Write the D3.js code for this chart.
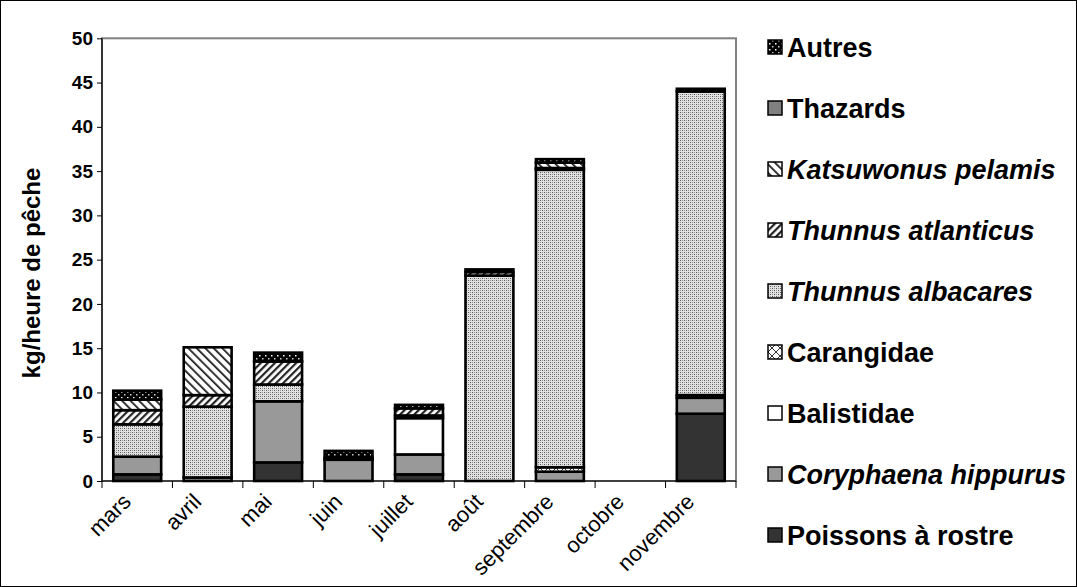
<!DOCTYPE html>
<html><head><meta charset="utf-8">
<script src="https://cdn.jsdelivr.net/npm/d3@7"></script>
<style>
html,body{margin:0;padding:0;background:#fff;}
svg{display:block;font-family:"Liberation Sans",Arial,sans-serif;}
</style></head><body>
<svg id="chart" width="1077" height="587"></svg>
<script>
const months = ["mars","avril","mai","juin","juillet","août","septembre","octobre","novembre"];
const rostre     = [0.75, 0,   2.1, 0,   0.75, 0,    0,    0, 7.6];
const coryphaena = [2.0,  0.4, 6.9, 2.4, 2.25, 0,    1.05, 0, 1.8];
const balistidae = [0,    0,   0,   0,   4.1,  0,    0,    0, 0];
const carangidae = [0,    0,   0,   0,   0.3,  0,    0.5,  0, 0.3];
const albacares  = [3.65, 8.0, 1.9, 0,   0,    23.2, 33.6, 0, 34.3];
const atlanticus = [1.6,  1.3, 2.6, 0.2, 0.8,  0.4,  0.2,  0, 0];
const katsuwonus = [1.2,  5.4, 0,   0,   0,    0,    0.6,  0, 0];
const thazards   = [0,    0,   0,   0,   0,    0,    0,    0, 0];
const autres     = [1.0,  0,   1.0, 0.8, 0.4,  0.3,  0.4,  0, 0.3];
const yTicks = [0,5,10,15,20,25,30,35,40,45,50];

const seriesNames = ["Poissons à rostre","Coryphaena hippurus","Balistidae","Carangidae","Thunnus albacares","Thunnus atlanticus","Katsuwonus pelamis","Thazards","Autres"];
const seriesValues = [rostre,coryphaena,balistidae,carangidae,albacares,atlanticus,katsuwonus,thazards,autres];
const italic = [false,true,false,false,true,true,true,false,false];
const fills = ["#333333","#999999","#ffffff","url(#pCar)","url(#pAlb)","url(#pAtl)","url(#pKat)","#808080","url(#pAut)"];

const svg = d3.select("#chart");
const defs = svg.append("defs");
let p = defs.append("pattern").attr("id","pAlb").attr("patternUnits","userSpaceOnUse").attr("width",4).attr("height",4);
p.append("rect").attr("width",4).attr("height",4).attr("fill","#e2e2e2");
p.append("rect").attr("x",0).attr("y",0).attr("width",1).attr("height",1).attr("fill","#555");
p.append("rect").attr("x",2).attr("y",2).attr("width",1).attr("height",1).attr("fill","#555");
p.append("rect").attr("x",2).attr("y",0).attr("width",1).attr("height",1).attr("fill","#999");
p.append("rect").attr("x",0).attr("y",2).attr("width",1).attr("height",1).attr("fill","#999");
p = defs.append("pattern").attr("id","pAut").attr("patternUnits","userSpaceOnUse").attr("width",6).attr("height",6);
p.append("rect").attr("width",6).attr("height",6).attr("fill","#000");
p.append("rect").attr("x",1).attr("y",1).attr("width",1.5).attr("height",1.5).attr("fill","#fff");
p.append("rect").attr("x",4).attr("y",4).attr("width",1.5).attr("height",1.5).attr("fill","#ccc");
p = defs.append("pattern").attr("id","pAtl").attr("patternUnits","userSpaceOnUse").attr("width",5).attr("height",5).attr("patternTransform","rotate(45)");
p.append("rect").attr("width",5).attr("height",5).attr("fill","#fff");
p.append("rect").attr("x",0).attr("y",0).attr("width",2.2).attr("height",5).attr("fill","#222");
p = defs.append("pattern").attr("id","pKat").attr("patternUnits","userSpaceOnUse").attr("width",6).attr("height",6).attr("patternTransform","rotate(-45)");
p.append("rect").attr("width",6).attr("height",6).attr("fill","#fff");
p.append("rect").attr("x",0).attr("y",0).attr("width",1.8).attr("height",6).attr("fill","#222");
p = defs.append("pattern").attr("id","pCar").attr("patternUnits","userSpaceOnUse").attr("width",8).attr("height",8);
p.append("rect").attr("width",8).attr("height",8).attr("fill","#fff");
p.append("path").attr("d","M0,0L8,8M8,0L0,8").attr("stroke","#333").attr("stroke-width",1);

const W = 1077, H = 587;
svg.append("rect").attr("x",0.5).attr("y",0.5).attr("width",W-1).attr("height",H-1).attr("fill","#fff").attr("stroke","#000").attr("stroke-width",1);

const pLeft = 102, pRight = 736, pTop = 38.3, pBottom = 481;
const x = d3.scaleBand().domain(months).range([pLeft,pRight]).paddingInner(0.32).paddingOuter(0.16);
const y = d3.scaleLinear().domain([0,50]).range([pBottom,pTop]);

svg.append("rect").attr("x",pLeft).attr("y",pTop).attr("width",pRight-pLeft).attr("height",pBottom-pTop)
  .attr("fill","none").attr("stroke","#808080").attr("stroke-width",2);

const table = months.map((m,i)=>{ const o={month:m}; seriesNames.forEach((s,j)=>o[s]=seriesValues[j][i]); return o; });
const stack = d3.stack().keys(seriesNames)(table);
const g = svg.append("g");
stack.forEach((layer,j)=>{
  g.selectAll(null).data(layer.filter(d=>d[1]-d[0]>0)).enter().append("rect")
    .attr("x",d=>x(d.data.month)).attr("width",x.bandwidth())
    .attr("y",d=>y(d[1])).attr("height",d=>y(d[0])-y(d[1]))
    .attr("fill",fills[j]).attr("stroke","#000").attr("stroke-width",2.6);
});

const ya = svg.append("g").attr("transform",`translate(${pLeft},0)`)
  .call(d3.axisLeft(y).tickValues(yTicks).tickSize(5).tickPadding(4));
ya.select(".domain").attr("stroke","#000").attr("stroke-width",1.2).attr("d",`M0,${pTop}V${pBottom}`);
ya.selectAll(".tick line").attr("stroke","#000");
ya.selectAll("text").attr("font-family","Liberation Sans, Arial, sans-serif").attr("font-size",19).attr("font-weight","bold").attr("fill","#000");

const xa = svg.append("g").attr("transform",`translate(0,${pBottom})`);
xa.append("line").attr("x1",pLeft).attr("x2",pRight).attr("y1",0).attr("y2",0).attr("stroke","#000").attr("stroke-width",1.2);
const tickPos = d3.range(months.length+1).map(i=>pLeft + i*(pRight-pLeft)/months.length);
xa.selectAll(".xt").data(tickPos).enter().append("line").attr("x1",d=>d).attr("x2",d=>d).attr("y1",0).attr("y2",7).attr("stroke","#000");
xa.selectAll(".xl").data(months).enter().append("text")
  .attr("transform",d=>`translate(${x(d)+x.bandwidth()/2-5},${22}) rotate(-45)`)
  .attr("text-anchor","end").attr("font-size",22).attr("fill","#000").text(d=>d);

svg.append("text").attr("transform","translate(40,273) rotate(-90)").attr("text-anchor","middle")
  .attr("font-size",24).attr("font-weight","bold").text("kg/heure de pêche");

const legOrder = d3.range(seriesNames.length).reverse();
const leg = svg.append("g");
legOrder.forEach((j,k)=>{
  const cy = 47 + k*61;
  leg.append("rect").attr("x",768).attr("y",cy-7).attr("width",14).attr("height",14)
    .attr("fill",fills[j]).attr("stroke","#000").attr("stroke-width",1.5);
  leg.append("text").attr("x",787).attr("y",cy).attr("dy","0.36em")
    .attr("font-size",27).attr("font-weight","bold").attr("font-style",italic[j]?"italic":"normal").text(seriesNames[j]);
});
</script>
</body></html>
